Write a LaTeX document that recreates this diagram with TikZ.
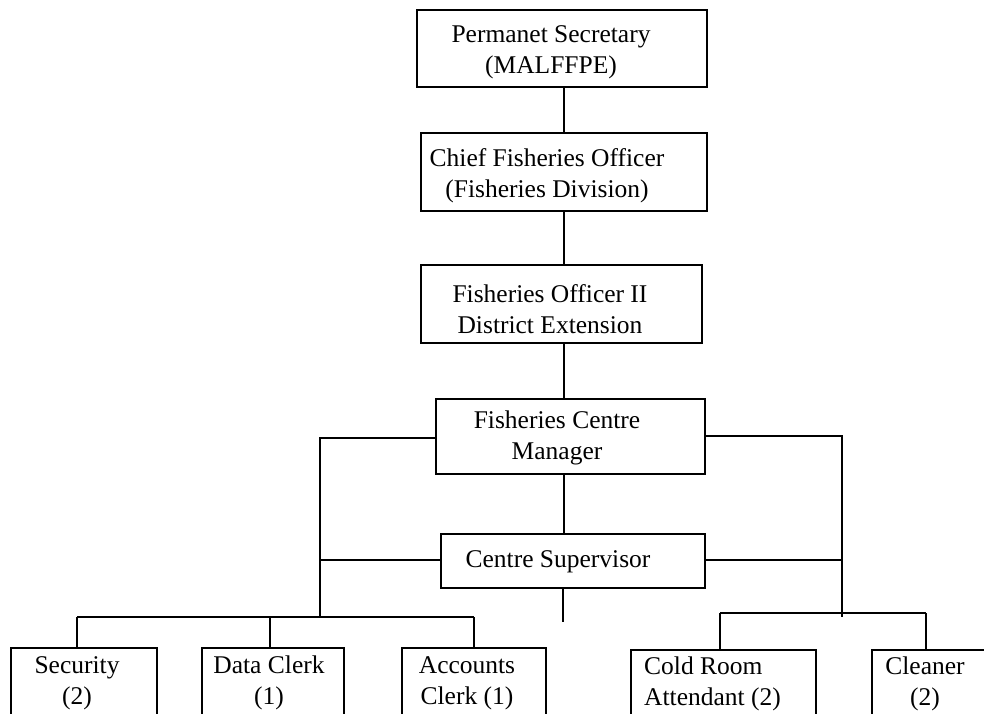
\documentclass[tikz,border=0pt]{standalone}
\usepackage{fontspec}
\setmainfont{Liberation Serif}
\begin{document}
\begin{tikzpicture}[x=1pt,y=-1pt,
  box/.style={draw, line width=1.6pt, inner sep=0pt},
  txt/.style={font=\fontsize{25.5}{31}\selectfont, align=center, inner sep=0pt},
  conn/.style={line width=1.6pt}]
\useasboundingbox (0,0) rectangle (984,713);
\clip (0,0) rectangle (984,713);
\fill[white] (0,0) rectangle (984,713);

% upper chain
\node[box, minimum width=290pt, minimum height=77pt] (ps) at (562,48.5) {};
\node[txt] (pst) at (551,52) {Permanet Secretary\\(MALFFPE)};
\node[box, minimum width=286pt, minimum height=78pt] (cfo) at (564,172) {};
\node[txt] (cfot) at (547,176) {Chief Fisheries Officer\\(Fisheries Division)};
\node[box, minimum width=281pt, minimum height=78pt] (fo) at (561.5,304) {};
\node[txt] (fot) at (550,309) {Fisheries Officer II\\District Extension};
\node[box, minimum width=269pt, minimum height=75pt] (fcm) at (570.5,436.5) {};
\node[txt] (fcmt) at (557,438) {Fisheries Centre\\Manager};
\node[box, minimum width=264pt, minimum height=54pt] (cs) at (573,561) {};
\node[txt] (cst) at (558,562) {Centre Supervisor};

% bottom boxes
\node[box, minimum width=146pt, minimum height=76pt] (sec) at (84,686) {};
\node[txt] (sect) at (77,683) {Security\\(2)};
\node[box, minimum width=142pt, minimum height=76pt] (dc) at (273,686) {};
\node[txt] (dct) at (269,683) {Data Clerk\\(1)};
\node[box, minimum width=144pt, minimum height=76pt] (ac) at (474,686) {};
\node[txt] (act) at (467,683) {Accounts\\Clerk (1)};
\node[box, minimum width=185pt, minimum height=76pt] (cr) at (723.5,688) {};
\node[txt, align=left, anchor=west] (crt) at (644,684) {Cold Room\\Attendant (2)};
\node[box, minimum width=128pt, minimum height=76pt] (cl) at (936,688) {};
\node[txt] (clt) at (925,684) {Cleaner\\(2)};

% spine
\coordinate (spine) at (564,0);
\coordinate (stub) at (563,622);
\draw[conn] (ps.south -| spine) -- (cfo.north -| spine);
\draw[conn] (cfo.south -| spine) -- (fo.north -| spine);
\draw[conn] (fo.south -| spine) -- (fcm.north -| spine);
\draw[conn] (fcm.south -| spine) -- (cs.north -| spine);
\draw[conn] (cs.south -| stub) -- (stub);

% left branch
\coordinate (lt) at (320,438);
\coordinate (lm) at (320,560);
\coordinate (lbot) at (320,617);
\coordinate (lb1) at (77,617);
\coordinate (lb2) at (270,617);
\coordinate (lb3) at (474,617);
\draw[conn] (fcm.west |- lt) -- (lt) -- (lbot);
\draw[conn] (lm) -- (cs.west |- lm);
\draw[conn] (lb1) -- (lb3);
\draw[conn] (lb1) -- (lb1 |- sec.north);
\draw[conn] (lb2) -- (lb2 |- dc.north);
\draw[conn] (lb3) -- (lb3 |- ac.north);

% right branch
\coordinate (rt) at (842,436);
\coordinate (rm) at (843,560);
\coordinate (rbot) at (842,617);
\coordinate (rb1) at (720,613);
\coordinate (rb2) at (926,613);
\draw[conn] (fcm.east |- rt) -- (rt) -- (rbot);
\draw[conn] (cs.east |- rm) -- (rm);
\draw[conn] (rb1) -- (rb2);
\draw[conn] (rb1) -- (rb1 |- cr.north);
\draw[conn] (rb2) -- (rb2 |- cl.north);
\end{tikzpicture}
\end{document}
